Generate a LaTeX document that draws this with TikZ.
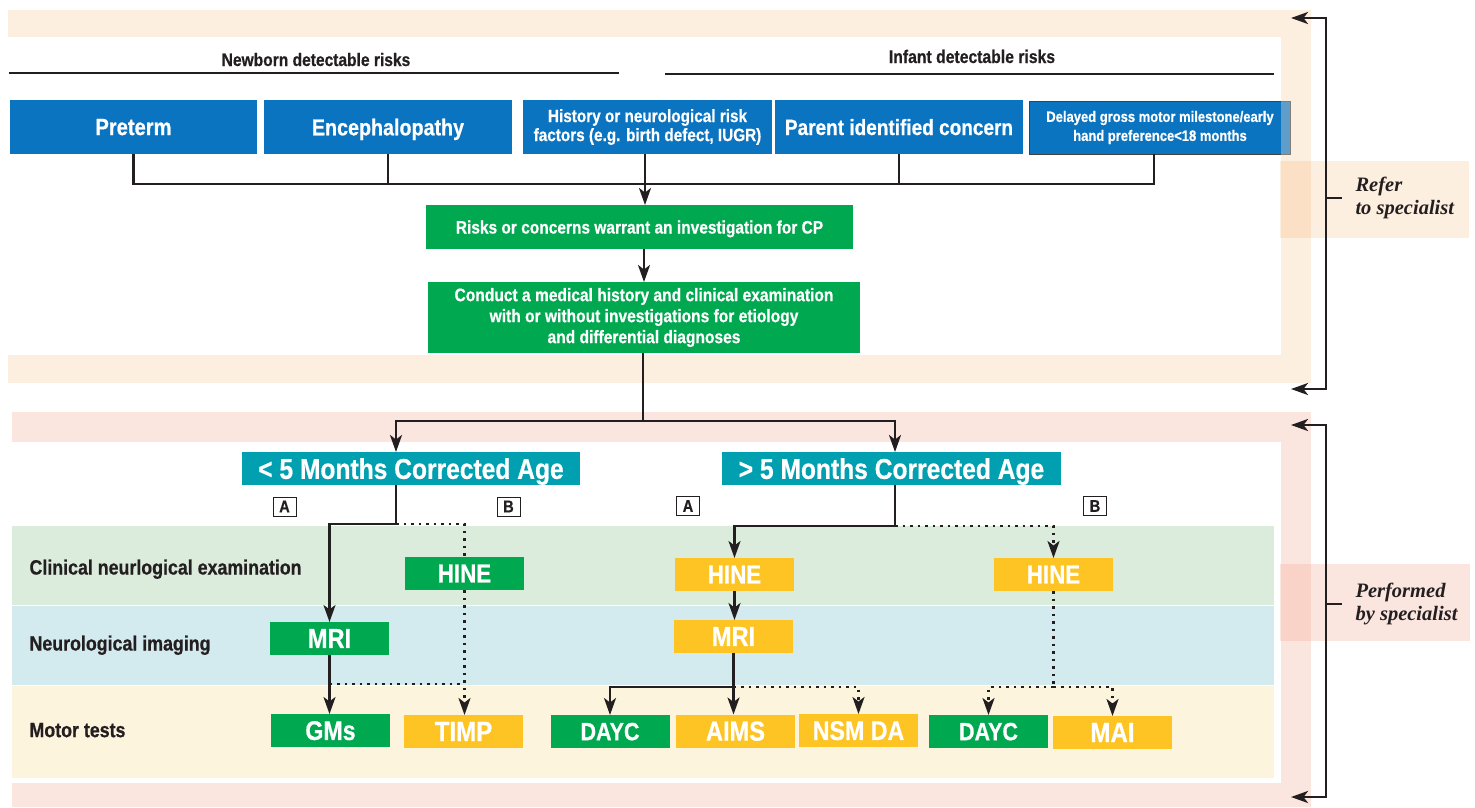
\documentclass[tikz,border=0pt]{standalone}
\usepackage{fontspec}
\setmainfont{Liberation Sans}[FakeStretch=0.86, BoldFeatures={FakeBold=0.6}]
\newfontfamily\serifbi{Liberation Serif}
\usetikzlibrary{arrows.meta}
\definecolor{cblue}{HTML}{0B74C1}
\definecolor{cgreen}{HTML}{00A850}
\definecolor{cyellow}{HTML}{FDC423}
\definecolor{cteal}{HTML}{00A0B1}
\definecolor{cbeige}{HTML}{FDEFDF}
\definecolor{cbeigeD}{HTML}{FCE0C5}
\definecolor{cpink}{HTML}{FAE5DF}
\definecolor{cpinkD}{HTML}{F9D2C8}
\definecolor{rgreen}{HTML}{DBEBDC}
\definecolor{rblue}{HTML}{D3EAEE}
\definecolor{ryellow}{HTML}{FDF4DD}
\definecolor{ink}{HTML}{231F20}
\begin{document}
\begin{tikzpicture}[x=1pt,y=-1pt,
  box/.style={inner sep=0pt, outer sep=0pt, text=white, align=center},
  fs/.style 2 args={font=\fontsize{#1}{#2}\selectfont\bfseries},
  cd/.style={text depth=0pt},
  sbox/.style={box, minimum width=119pt, minimum height=33pt, cd},
  ln/.style={draw=ink, line width=2.5pt},
  arr/.style={ln, -{Stealth[length=17pt,width=12pt,inset=4.5pt]}},
  dot/.style={draw=ink, line width=2.5pt, dash pattern=on 2.5pt off 5pt},
  darr/.style={dot, -{Stealth[length=17pt,width=12pt,inset=4.5pt]}},
  lab/.style={draw=ink, line width=1pt, fill=white, inner sep=0pt, minimum width=23pt, minimum height=19pt, fs={17}{18}, text=ink, cd},
  rowlab/.style={anchor=west, fs={20.7}{23}, text=ink, cd},
  side/.style={anchor=west, align=left, font=\serifbi\bfseries\itshape\fontsize{20.5}{23}\selectfont, text=ink}
]
\useasboundingbox (0,0) rectangle (1475,807);
% top frame
\fill[cbeige] (8,10) rectangle (1311,383);
\fill[white] (8,37) rectangle (1281,355);
\fill[cbeige] (1280,161) rectangle (1469,238);
\fill[cbeigeD] (1281,161) rectangle (1311,238);
% bottom frame
\fill[cpink] (12,412) rectangle (1311,807);
\fill[white] (12,442) rectangle (1281,783);
\fill[cpink] (1280,564) rectangle (1470,641);
\fill[cpinkD] (1281,564) rectangle (1311,641);
\fill[rgreen] (12,526) rectangle (1274,605);
\fill[rblue] (12,606) rectangle (1274,685);
\fill[ryellow] (12,686) rectangle (1274,778);

% headers
\node[anchor=base, fs={18.1}{20}, text=ink] (hnew) at (316,66) {Newborn detectable risks};
\node[anchor=base, fs={18.3}{20}, text=ink] (hinf) at (972,63) {Infant detectable risks};
\draw[ink, line width=2.5pt] (8.5,73) -- (619,73);
\draw[ink, line width=2.5pt] (665,74) -- (1274,74);

% risk boxes
\node[box, fill=cblue, minimum width=247pt, minimum height=54pt, fs={23.4}{26}, cd] (pre) at (133.5,127) {Preterm};
\node[box, fill=cblue, minimum width=248pt, minimum height=54pt, fs={22.9}{26}, cd] (enc) at (388,127) {Encephalopathy};
\node[box, fill=cblue, minimum width=249pt, minimum height=54pt, fs={17.8}{19}] (hist) at (647.5,127) {History or neurological risk\\factors (e.g. birth defect, IUGR)};
\node[box, fill=cblue, minimum width=248pt, minimum height=54pt, fs={22.1}{26}, cd] (par) at (899,127) {Parent identified concern};
\node[box, fill=cblue, draw=black!75, line width=1pt, minimum width=261pt, minimum height=53pt, fs={15.1}{19}] (del) at (1160,127.5) {Delayed gross motor milestone/early\\hand preference<18 months};
\fill[cbeige, opacity=0.35] (1281,100) rectangle (1292,155);

\node[box, fill=cgreen, minimum width=427pt, minimum height=44pt, fs={18}{20}, cd] (risk) at (639.5,227) {Risks or concerns warrant an investigation for CP};
\node[box, fill=cgreen, minimum width=432pt, minimum height=71pt, fs={18.1}{21}] (cond) at (644,317.5) {Conduct a medical history and clinical examination\\with or without investigations for etiology\\and differential diagnoses};

% top connectors
\coordinate (bar) at (645,184);
\draw[ln] (pre.south) |- (bar) -| ([xshift=-6pt]del.south);
\draw[ln] (enc.south) -- (enc.south |- bar);
\draw[ln] (par.south) -- (par.south |- bar);
\draw[arr] (hist.south -| bar) -- (risk.north -| bar);
\draw[arr] ([xshift=-1pt]risk.south -| bar) -- ([xshift=-1pt]cond.north -| bar);

% age boxes
\node[box, fill=cteal, minimum width=338pt, minimum height=33pt, fs={28.6}{30}, cd] (lt) at (411,468.5) {< 5 Months Corrected Age};
\node[box, fill=cteal, minimum width=339pt, minimum height=33pt, fs={28.6}{30}, cd] (gt) at (891.5,468.5) {> 5 Months Corrected Age};

\coordinate (split) at (643,421);
\coordinate (la) at (396,524);
\coordinate (ra) at (895,526);
\draw[ln] (cond.south -| split) -- (split);
\draw[arr] (split) -| (la |- lt.north);
\draw[arr] (split) -| (ra |- gt.north);

% A/B labels
\node[lab] (a1) at (284.5,506.5) {A};
\node[lab] (b1) at (508.5,506.5) {B};
\node[lab] (a2) at (688,506) {A};
\node[lab] (b2) at (1095,506) {B};

% row labels
\node[rowlab] (r1) at (26,567) {Clinical neurlogical examination};
\node[rowlab] (r2) at (26,643) {Neurological imaging};
\node[rowlab] (r3) at (26,730) {Motor tests};

% small boxes
\node[sbox, fill=cgreen, fs={26}{28}] (hine1) at (464.5,573.5) {HINE};
\node[sbox, fill=cgreen, fs={27.5}{28}] (mri1) at (329.5,638.5) {MRI};
\node[sbox, fill=cgreen, fs={27}{28}] (gms) at (330.5,730.5) {GMs};
\node[sbox, fill=cyellow, fs={28}{28}] (timp) at (463.5,731.5) {TIMP};
\node[sbox, fill=cyellow, fs={26}{28}] (hine2) at (734.5,574.5) {HINE};
\node[sbox, fill=cyellow, fs={26}{28}] (hine3) at (1053.5,574.5) {HINE};
\node[sbox, fill=cyellow, fs={27.5}{28}] (mri2) at (733.5,636.5) {MRI};
\node[sbox, fill=cgreen, fs={25}{28}] (dayc1) at (610,731.5) {DAYC};
\node[sbox, fill=cyellow, fs={27.5}{28}] (aims) at (735.5,731) {AIMS};
\node[sbox, fill=cyellow, fs={27}{28}] (nsm) at (858.5,730.5) {NSM DA};
\node[sbox, fill=cgreen, fs={25}{28}] (dayc2) at (988.5,731.5) {DAYC};
\node[sbox, fill=cyellow, fs={28}{28}] (mai) at (1112.5,732.5) {MAI};

% left branch
\draw[ln] (lt.south -| la) -- (la);
\draw[arr] (la) -| (mri1.north);
\draw[dot] (la) -| (hine1.north);
\draw[darr] (hine1.south) -- (hine1.south |- timp.north);
\draw[arr] (mri1.south) -- (mri1.south |- gms.north);
\coordinate (mjy) at (0,684);
\draw[dot] (mri1.south |- mjy) -- (timp.north |- mjy);

% right branch
\draw[ln] (gt.south -| ra) -- (ra);
\draw[arr] (ra) -| (hine2.north);
\draw[darr] (ra) -| (hine3.north);
\draw[arr] (hine2.south) -- (hine2.south |- mri2.north);
\coordinate (mb) at (0,687);
\draw[arr] (mri2.south) -- (mri2.south |- aims.north);
\draw[arr] (mri2.south |- mb) -| (dayc1.north);
\draw[darr] (mri2.south |- mb) -| (nsm.north);
\draw[dot] (hine3.south) -- (hine3.south |- mb);
\draw[darr] (hine3.south |- mb) -| (dayc2.north);
\draw[darr] (hine3.south |- mb) -| (mai.north);

% side brackets
\coordinate (rmid) at (1326,198);
\coordinate (rt) at (1291,18);
\coordinate (rb) at (1291,389);
\draw[arr] (rmid) |- (rt);
\draw[arr] (rmid) |- (rb);
\draw[ln] (rmid) -- ++(16,0);
\node[side] (refer) at (1352,198) {Refer\\to specialist};

\coordinate (pmid) at (1326,604);
\coordinate (pt) at (1291,425);
\coordinate (pb) at (1291,797);
\draw[arr] (pmid) |- (pt);
\draw[arr] (pmid) |- (pb);
\draw[ln] (pmid) -- ++(16,0);
\node[side] (perf) at (1352,604) {Performed\\by specialist};
\end{tikzpicture}
\end{document}
